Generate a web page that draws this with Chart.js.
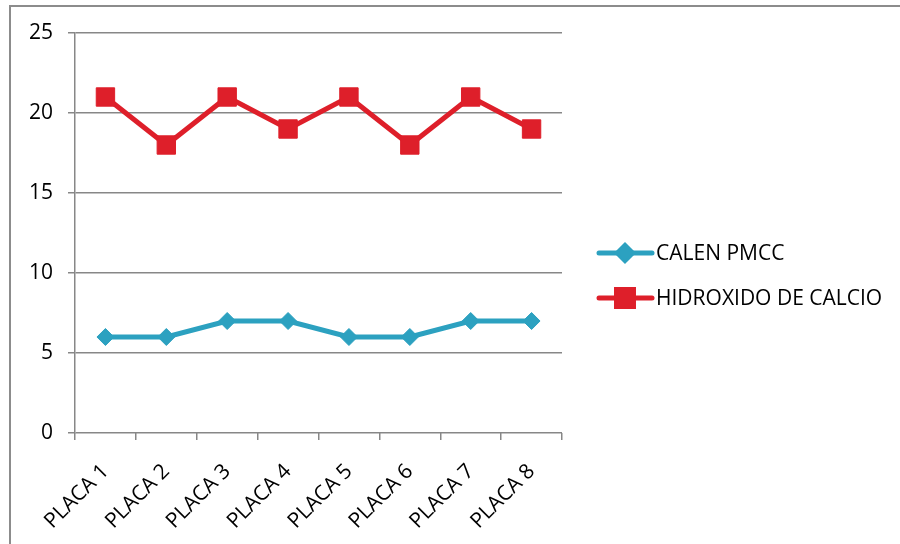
<!DOCTYPE html>
<html>
<head>
<meta charset="utf-8">
<script src="https://cdn.jsdelivr.net/npm/chart.js@4"></script>
<style>
  html, body { margin: 0; padding: 0; background: #fff; }
  #wrap { width: 900px; height: 544px; position: relative; }
</style>
</head>
<body>
<div id="wrap"><canvas id="chart" width="900" height="544"></canvas></div>
<script>
const placas = ["PLACA 1", "PLACA 2", "PLACA 3", "PLACA 4", "PLACA 5", "PLACA 6", "PLACA 7", "PLACA 8"]
const calenPmcc = [6, 6, 7, 7, 6, 6, 7, 7]
const hidroxidoCalcio = [21, 18, 21, 19, 21, 18, 21, 19]
const yTicks = [0, 5, 10, 15, 20, 25]

const FONT = "'Open Sans', sans-serif"
const BLUE = "#2ca1c0"
const RED = "#de1f2a"
const GRID = "#878787"

// outer frame (only left and top edges show in the picture)
const framePlugin = {
  id: "frame",
  beforeDraw(chart) {
    const ctx = chart.ctx
    ctx.save()
    ctx.fillStyle = "#fff"
    ctx.fillRect(0, 0, chart.width, chart.height)
    ctx.strokeStyle = "#8c8c8c"
    ctx.lineWidth = 2
    ctx.beginPath()
    ctx.moveTo(10, chart.height)
    ctx.lineTo(10, 6)
    ctx.lineTo(chart.width, 6)
    ctx.stroke()
    ctx.restore()
  }
}

// legend drawn like the office one: line with marker in the middle
const legendPlugin = {
  id: "sideLegend",
  afterDraw(chart) {
    const ctx = chart.ctx
    const x0 = 599, x1 = 652, xm = 625
    const rows = [253, 298]
    ctx.save()
    chart.data.datasets.forEach((ds, i) => {
      const y = rows[i]
      ctx.strokeStyle = ds.borderColor
      ctx.lineWidth = ds.borderWidth
      ctx.lineCap = "round"
      ctx.beginPath()
      ctx.moveTo(x0, y)
      ctx.lineTo(x1, y)
      ctx.stroke()
      ctx.lineCap = "butt"
      Chart.helpers.drawPoint(ctx, {
        pointStyle: ds.pointStyle,
        radius: ds.pointRadius - 1,
        borderWidth: 1,
        rotation: 0
      }, xm, y)
      ctx.fillStyle = ds.backgroundColor
      ctx.fill()
      ctx.fillStyle = "#000"
      ctx.font = "21px " + FONT
      ctx.textBaseline = "middle"
      ctx.fillText(ds.label, 656, y + 1)
    })
    ctx.restore()
  }
}

new Chart(document.getElementById("chart"), {
  type: "line",
  data: {
    labels: placas,
    datasets: [
      {
        label: "CALEN PMCC",
        data: calenPmcc,
        borderColor: BLUE,
        backgroundColor: BLUE,
        borderWidth: 5,
        pointStyle: "rectRot",
        pointRadius: 8.5,
        pointBorderWidth: 1,
        pointHoverRadius: 8.5
      },
      {
        label: "HIDROXIDO DE CALCIO",
        data: hidroxidoCalcio,
        borderColor: RED,
        backgroundColor: RED,
        borderWidth: 5,
        pointStyle: "rect",
        pointRadius: 13,
        pointBorderWidth: 1,
        pointHoverRadius: 13
      }
    ]
  },
  options: {
    responsive: false,
    animation: false,
    events: [],
    layout: { padding: { top: 33, right: 338, bottom: 0, left: 0 } },
    plugins: { legend: { display: false }, tooltip: { enabled: false } },
    scales: {
      x: {
        offset: true,
        grid: { offset: true, drawOnChartArea: false, drawTicks: true, tickLength: 7, color: GRID, lineWidth: 1.5 },
        border: { display: false },
        ticks: { color: "#000", font: { family: FONT, size: 21 }, minRotation: 45, maxRotation: 45, padding: 19, autoSkip: false },
        afterFit(scale) { scale.height = 111 }
      },
      y: {
        min: 0,
        max: 25,
        afterBuildTicks(scale) { scale.ticks = yTicks.map(v => ({ value: v })) },
        grid: { color: GRID, lineWidth: 1.5, tickLength: 7 },
        border: { display: true, color: GRID, width: 1.5 },
        ticks: { color: "#000", font: { family: FONT, size: 21 }, padding: 15 },
        afterFit(scale) { scale.width = 75 }
      }
    }
  },
  plugins: [framePlugin, legendPlugin]
})
</script>
</body>
</html>
